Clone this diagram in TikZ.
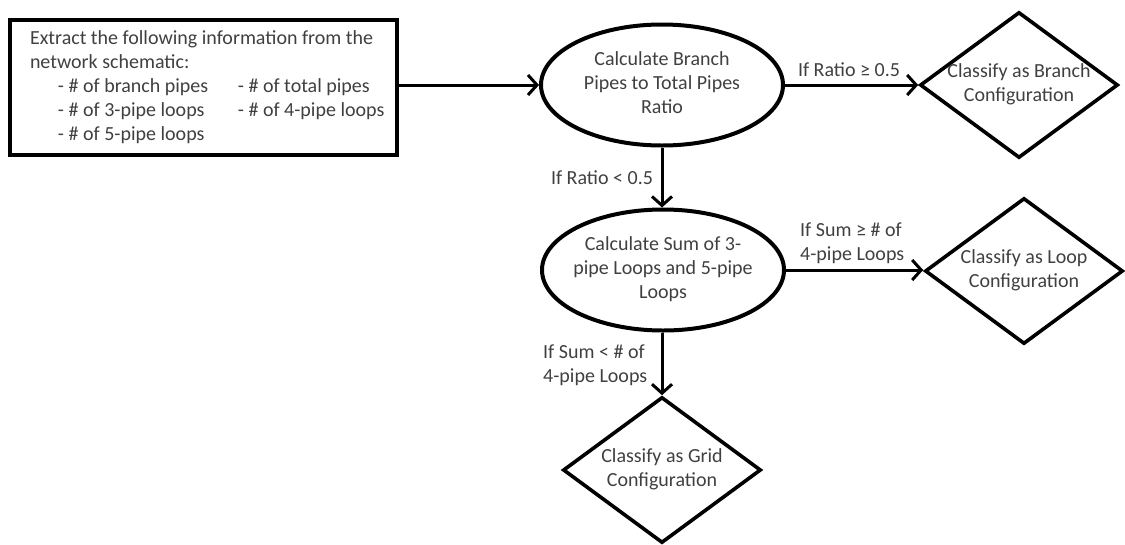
\documentclass[tikz,border=0pt]{standalone}
\usepackage{fontspec}
\setmainfont{Carlito}
\usetikzlibrary{shapes.geometric,arrows.meta}
\definecolor{txt}{HTML}{404040}
\newcommand{\ctext}[1]{\makebox[0pt]{\begin{tabular}{@{}c@{}}#1\end{tabular}}}
\begin{document}
\begin{tikzpicture}[x=1pt,y=-1pt,
  every node/.style={text=txt, font=\fontsize{20}{24}\selectfont},
  infobox/.style={draw=black, line width=4.5pt, minimum width=387pt, minimum height=135pt, inner sep=0pt},
  oval/.style={ellipse, draw=black, line width=4pt, minimum width=242pt, minimum height=121pt, inner sep=0pt},
  decide/.style={diamond, draw=black, line width=3.6pt, minimum width=198pt, minimum height=146pt, inner sep=0pt},
  flow/.style={draw=black, line width=3pt, -{Straight Barb[length=9pt,width=20pt,line width=3pt]}},
  lbl/.style={align=left, inner sep=0pt}
]
\useasboundingbox (0,0) rectangle (1125,544);

\node[infobox] (extract) at (203.5,87.5) {\makebox[347pt][l]{\begin{tabular}{@{}l@{}}
Extract the following information from the\\
network schematic:\\
\hspace*{28pt}\makebox[180pt][l]{- \# of branch pipes}- \# of total pipes\\
\hspace*{28pt}\makebox[180pt][l]{- \# of 3-pipe loops}- \# of 4-pipe loops\\
\hspace*{28pt}- \# of 5-pipe loops
\end{tabular}}};

\node[oval] (ratio) at (662,85) {\ctext{Calculate Branch\\Pipes to Total Pipes\\Ratio}};
\node[oval] (sum) at (663,270) {\ctext{Calculate Sum of 3-\\pipe Loops and 5-pipe\\Loops}};

\node[decide] (branch) at (1019,85) {\ctext{Classify as Branch\\Configuration}};
\node[decide] (loop) at (1024,271) {\ctext{Classify as Loop\\Configuration}};
\node[decide] (grid) at (662,470) {\ctext{Classify as Grid\\Configuration}};

\draw[flow] (extract.east |- ratio.west) -- (ratio.west);
\draw[flow] (ratio.east) -- (branch.west);
\draw[flow] (ratio.south) -- (ratio.south |- sum.north);
\draw[flow] (sum.east) -- (sum.east -| loop.west);
\draw[flow] (sum.south -| grid.north) -- (grid.north);

\node[lbl] (l1) at (849,70) {If Ratio ≥ 0.5};
\node[lbl] (l2) at (602,178) {If Ratio < 0.5};
\node[lbl, anchor=west] (l3) at (800,243) {If Sum ≥ \# of\\4-pipe Loops};
\node[lbl, anchor=west] (l4) at (543,365) {If Sum < \# of\\4-pipe Loops};
\end{tikzpicture}
\end{document}
